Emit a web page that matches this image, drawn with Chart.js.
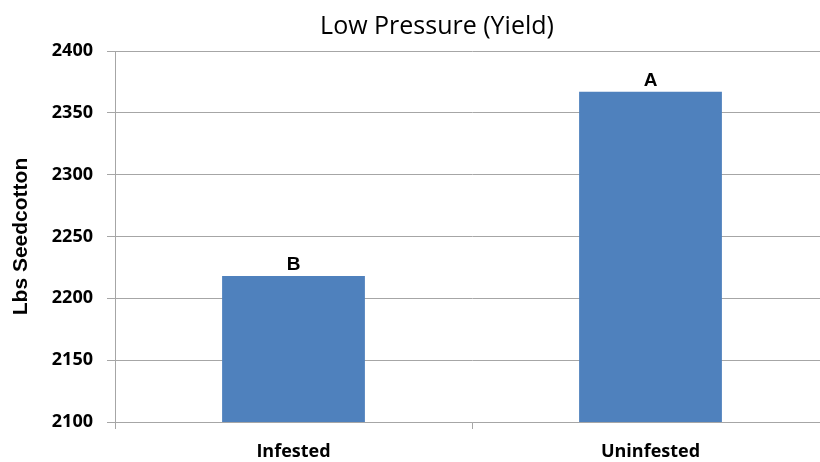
<!DOCTYPE html>
<html>
<head>
<meta charset="utf-8">
<script src="https://cdn.jsdelivr.net/npm/chart.js@4/dist/chart.umd.min.js"></script>
<style>
  html, body { margin: 0; padding: 0; background: #fff; overflow: hidden; }
  canvas { display: block; }
</style>
</head>
<body>
<canvas id="yield" width="840" height="462"></canvas>
<script>
// Seedcotton yield under low pest pressure
const chartTitle = 'Low Pressure (Yield)';
const categories = ['Infested', 'Uninfested'];
const yieldLbs = [2218, 2367];
const groupLetters = ['B', 'A'];
const yMin = 2100;
const yMax = 2400;
const yStep = 50;

const gridColor = '#a6a6a6';

// Title centred over the plotting region
const titlePlugin = {
  id: 'titleText',
  afterDraw(chart) {
    const ctx = chart.ctx;
    ctx.save();
    ctx.font = '25px "Open Sans"';
    ctx.fillStyle = '#000';
    ctx.textAlign = 'center';
    ctx.textBaseline = 'alphabetic';
    ctx.fillText(chartTitle, 437, 34);
    ctx.restore();
  }
};

// Mean-separation letters above each bar
const letterPlugin = {
  id: 'barLetters',
  afterDatasetsDraw(chart) {
    const ctx = chart.ctx;
    const meta = chart.getDatasetMeta(0);
    ctx.save();
    ctx.font = 'bold 19px "Liberation Sans"';
    ctx.fillStyle = '#000';
    ctx.textAlign = 'center';
    ctx.textBaseline = 'bottom';
    meta.data.forEach((bar, i) => {
      ctx.fillText(groupLetters[i], bar.x, bar.y - 2);
    });
    ctx.restore();
  }
};

new Chart(document.getElementById('yield'), {
  type: 'bar',
  data: {
    labels: categories,
    datasets: [{
      data: yieldLbs,
      backgroundColor: '#4f81bd',
      borderWidth: 0,
      barPercentage: 0.4,
      categoryPercentage: 1.0
    }]
  },
  options: {
    responsive: false,
    animation: false,
    layout: { padding: { top: 51, right: 11, left: 0, bottom: 0 } },
    plugins: {
      legend: { display: false },
      title: { display: false },
      tooltip: { enabled: false }
    },
    scales: {
      x: {
        offset: true,
        grid: {
          offset: true,
          drawOnChartArea: false,
          drawTicks: true,
          tickLength: 7,
          color: gridColor
        },
        border: { display: true, color: gridColor },
        ticks: {
          color: '#000',
          font: { family: '"Open Sans"', size: 18, weight: 'bold' },
          padding: 12
        },
        afterFit(scale) { scale.height = 40; }
      },
      y: {
        min: yMin,
        max: yMax,
        grid: {
          color: gridColor,
          drawTicks: true,
          tickLength: 8
        },
        border: { display: true, color: gridColor },
        ticks: {
          stepSize: yStep,
          color: '#000',
          font: { family: '"Open Sans"', size: 18, weight: 'bold' },
          padding: 14,
          callback: (v) => String(v)
        },
        title: {
          display: true,
          text: 'Lbs Seedcotton',
          color: '#000',
          font: { family: '"Liberation Sans"', size: 21, weight: 'bold' },
          padding: { top: 9, bottom: 0 }
        },
        afterFit(scale) { scale.width = 115; }
      }
    }
  },
  plugins: [titlePlugin, letterPlugin]
});
</script>
</body>
</html>
